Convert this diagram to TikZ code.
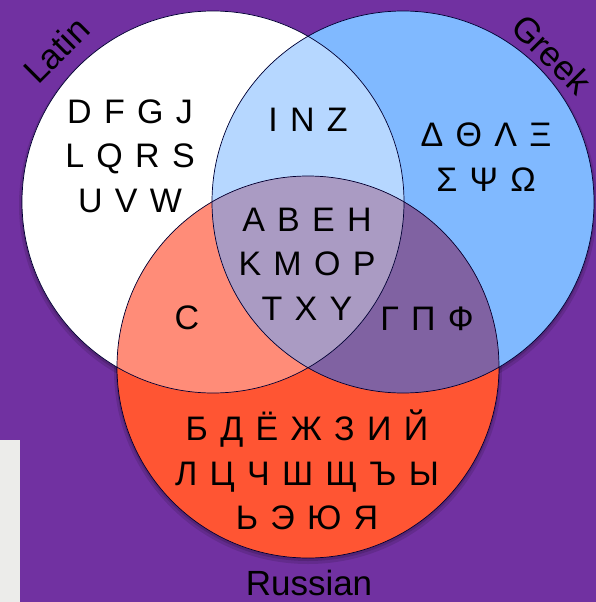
\documentclass[tikz,border=0pt]{standalone}
\usepackage{fontspec}
\setmainfont{Liberation Sans}
\newfontfamily\vennfont{Liberation Sans}[WordSpace=1.3]
\usetikzlibrary{positioning}
\definecolor{bgpurple}{HTML}{7131A1}
\definecolor{panelgray}{HTML}{ECECEA}
\definecolor{greekblue}{HTML}{80B9FF}
\definecolor{russianred}{HTML}{FF5533}
\definecolor{latgreek}{HTML}{B6D7FF}
\definecolor{latrus}{HTML}{FF8C78}
\definecolor{greekrus}{HTML}{8062A2}
\definecolor{allthree}{HTML}{AA9BC3}

\begin{document}
\begin{tikzpicture}[x=1pt,y=-1pt,
  every node/.style={font=\vennfont\fontsize{34}{44.5}\selectfont,inner sep=0pt,align=center},
  setlabel/.style={font=\vennfont\fontsize{35}{40}\selectfont,anchor=base},
  rim/.style={draw=black!80!blue,line width=0.7pt}]
  \useasboundingbox (0,0) rectangle (596,602);
  \fill[bgpurple] (0,0) rectangle (596,602);
  \fill[panelgray] (0,440) rectangle (20,602);
  \coordinate (latin) at (213,202);
  \coordinate (greek) at (403,202);
  \coordinate (russian) at (308,367);
  % soft shadow
  \foreach \c in {latin,greek,russian}
    \fill[black,opacity=0.12] ([yshift=-3pt]\c) circle (194pt);
  \foreach \c in {latin,greek,russian}
    \fill[black,opacity=0.15] ([yshift=-2pt]\c) circle (192pt);
  % regions
  \fill[white] (latin) circle (191pt);
  \fill[greekblue] (greek) circle (191pt);
  \fill[russianred] (russian) circle (191pt);
  \begin{scope}
    \clip (latin) circle (191pt);
    \fill[latgreek] (greek) circle (191pt);
    \fill[latrus] (russian) circle (191pt);
  \end{scope}
  \begin{scope}
    \clip (greek) circle (191pt);
    \fill[greekrus] (russian) circle (191pt);
    \clip (latin) circle (191pt);
    \fill[allthree] (russian) circle (191pt);
  \end{scope}
  \draw[rim] (latin) circle (191pt);
  \draw[rim] (greek) circle (191pt);
  \draw[rim] (russian) circle (191pt);
  % letters
  \node (latinonly) at (130,156) {D F G J\\L Q R S\\U V W};
  \node (inz) at (308,120) {I N Z};
  \node (greekonly) at (486,157) {Δ Θ Λ Ξ\\Σ Ψ Ω};
  \node (core) at (307,264) {A B E H\\K M O P\\T X Y};
  \node (conly) at (187,318) {C};
  \node (gpf) at (427,319) {Г П Ф};
  \node (russianonly) at (307,470) {Б Д Ё Ж З И Й\\Л Ц Ч Ш Щ Ъ Ы\\Ь Э Ю Я};
  % set names
  \node[setlabel,rotate=45] (latinname) at (65,59) {Latin};
  \node[setlabel,rotate=-45] (greekname) at (543,63) {Greek};
  \node[setlabel] (russianname) at (309,595) {Russian};
\end{tikzpicture}
\end{document}
